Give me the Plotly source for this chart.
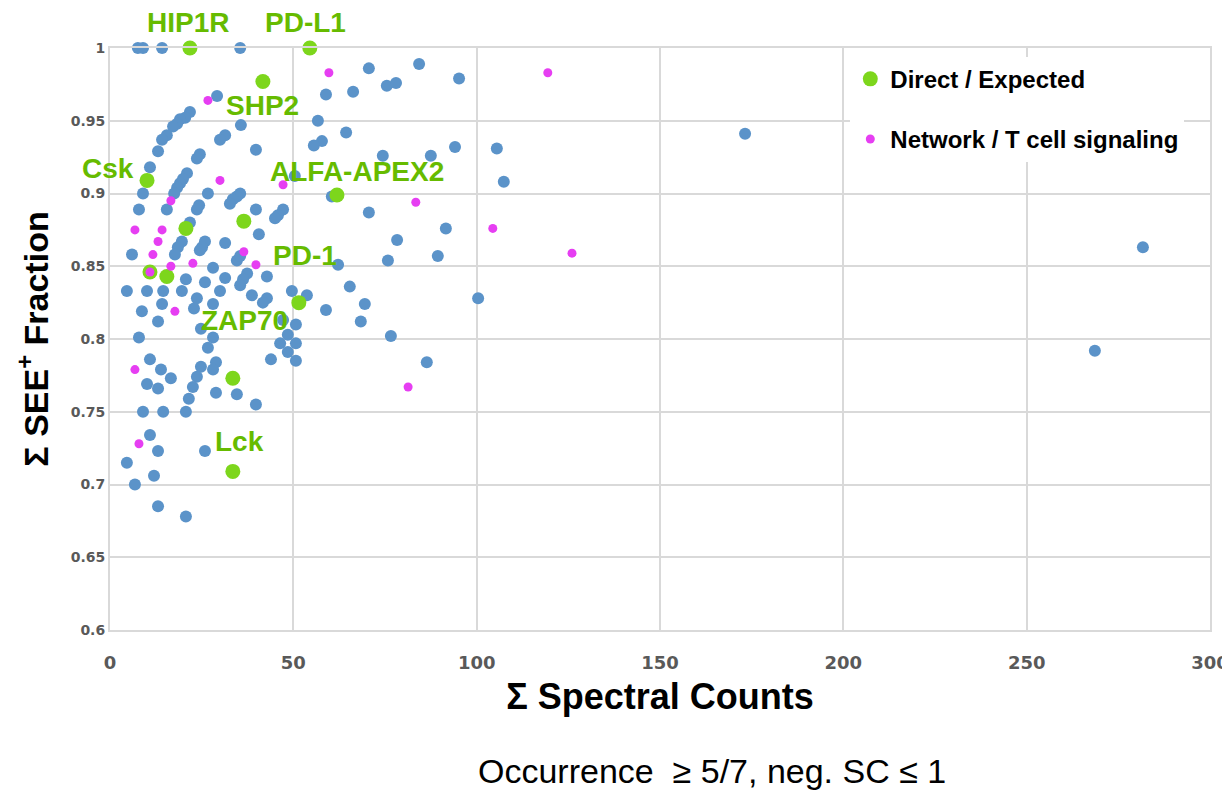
import plotly.graph_objects as go

# ---------------- data ----------------
blue_x = [7.6, 9.0, 14.2, 35.5, 29.2, 21.8, 20.5, 19.1, 18.3, 17.2, 15.5, 14.2, 13.1, 10.9, 9.0, 7.9, 6.0,
          35.7, 31.4, 30.0, 24.5, 23.7, 21.0, 19.9, 19.1, 18.3, 17.5, 15.5, 21.8, 26.7, 24.3, 23.7, 25.9, 25.1,
          24.5, 31.4, 19.6, 18.5, 17.7, 28.1, 20.7, 25.9, 31.4, 4.6, 10.1, 14.5, 19.6, 23.7, 30.0, 14.2, 8.7,
          22.9, 28.1, 13.1, 24.8, 7.9, 28.1, 26.7, 10.9, 13.9, 16.6, 10.1, 13.1, 24.8, 28.9, 28.1, 23.7, 22.6,
          21.5, 28.9, 34.6, 39.8, 9.0, 14.5, 20.7, 10.9, 13.1, 25.9, 4.6, 12.0, 6.8, 13.1, 20.7,
          35.5, 34.6, 33.5, 32.7, 39.8, 47.2, 45.8, 45.0, 40.6, 34.6, 35.5, 42.8, 37.4, 36.3, 35.5, 38.7, 42.8,
          41.7, 49.6, 53.7, 58.9, 65.4, 47.2, 50.7, 48.5, 46.4, 50.7, 48.5, 50.7, 43.9, 62.2, 39.8, 50.4,
          58.9, 66.3, 56.7, 64.4, 57.8, 55.6, 60.5, 70.6, 84.3, 75.5, 78.0, 95.2, 74.4, 87.5, 94.1, 105.5,
          107.4, 70.6, 91.6, 78.3, 75.8, 89.4, 69.5, 68.4, 100.4, 76.6, 86.4,
          173.2, 281.7, 268.6]
blue_y = [1.000, 1.000, 1.000, 1.000, 0.967, 0.956, 0.952, 0.951, 0.948, 0.946, 0.940, 0.937, 0.929, 0.918,
          0.900, 0.889, 0.858,
          0.947, 0.940, 0.937, 0.927, 0.924, 0.914, 0.910, 0.907, 0.904, 0.900, 0.889, 0.880, 0.900, 0.892,
          0.889, 0.867, 0.863, 0.861, 0.866, 0.867, 0.863, 0.858, 0.849, 0.841, 0.839, 0.842, 0.833, 0.833,
          0.833, 0.833, 0.828, 0.833, 0.824, 0.819, 0.821, 0.824, 0.812, 0.807, 0.801, 0.801, 0.794, 0.786,
          0.779, 0.773, 0.769, 0.766, 0.781, 0.784, 0.779, 0.774, 0.767, 0.759, 0.763, 0.762, 0.755, 0.750,
          0.750, 0.750, 0.734, 0.723, 0.723, 0.715, 0.706, 0.700, 0.685, 0.678,
          0.900, 0.898, 0.896, 0.893, 0.889, 0.889, 0.885, 0.883, 0.872, 0.854, 0.857, 0.843, 0.845, 0.841,
          0.837, 0.830, 0.828, 0.825, 0.833, 0.830, 0.820, 0.836, 0.813, 0.810, 0.803, 0.797, 0.797, 0.791,
          0.785, 0.786, 0.851, 0.930, 0.912,
          0.968, 0.970, 0.950, 0.942, 0.936, 0.933, 0.898, 0.986, 0.989, 0.974, 0.976, 0.979, 0.926, 0.926,
          0.932, 0.931, 0.908, 0.887, 0.876, 0.868, 0.854, 0.857, 0.824, 0.812, 0.828, 0.802, 0.784,
          0.941, 0.863, 0.792]

pink_x = [26.7, 59.7, 119.4, 30.0, 47.2, 16.6, 6.8, 14.2, 13.1, 11.7, 36.5, 39.8, 22.6, 16.6, 10.9, 17.7,
          6.8, 7.9, 83.4, 104.4, 126.0, 81.3]
pink_y = [0.964, 0.983, 0.983, 0.909, 0.906, 0.895, 0.875, 0.875, 0.867, 0.858, 0.860, 0.851, 0.852, 0.850,
          0.846, 0.819, 0.779, 0.728, 0.894, 0.876, 0.859, 0.767]

green_x = [21.8, 54.5, 41.7, 10.1, 61.9, 36.5, 20.7, 10.9, 15.5, 51.5, 33.5, 33.5]
green_y = [1.000, 1.000, 0.977, 0.909, 0.899, 0.881, 0.876, 0.846, 0.843, 0.825, 0.773, 0.709]
green_labels = ["HIP1R", "PD-L1", "SHP2", "Csk", "ALFA-APEX2", "", "", "", "", "PD-1", "ZAP70", "Lck"]

x_ticks = [0, 50, 100, 150, 200, 250, 300]
y_ticks = [0.6, 0.65, 0.7, 0.75, 0.8, 0.85, 0.9, 0.95, 1]

# label offsets in pixels (dx, dy) relative to each green point
label_offsets = {"HIP1R": (-2, 26), "PD-L1": (-4, 26), "SHP2": (0, -24), "Csk": (-39, 12),
                 "ALFA-APEX2": (20, 23), "PD-1": (6, 47), "ZAP70": (12, 58), "Lck": (7, 30)}

BLUE = "#5b93c9"
GREEN = "#7dd61c"
GREEN_TXT = "#66bb00"
PINK = "#e63ef2"
GRID = "#d9d9d9"
FONT = "Liberation Sans, Arial, sans-serif"

fig = go.Figure()
fig.add_trace(go.Scatter(x=blue_x, y=blue_y, mode="markers", showlegend=False,
                         marker=dict(color=BLUE, size=12), cliponaxis=False, hoverinfo="x+y"))
fig.add_trace(go.Scatter(x=green_x, y=green_y, mode="markers", name="Direct / Expected",
                         legendgroup="g1",
                         marker=dict(color=GREEN, size=15), cliponaxis=False))
fig.add_trace(go.Scatter(x=pink_x, y=pink_y, mode="markers", name="Network / T cell signaling",
                         legendgroup="g2",
                         marker=dict(color=PINK, size=9), cliponaxis=False))

for gx, gy, lab in zip(green_x, green_y, green_labels):
    if not lab:
        continue
    dx, dy = label_offsets[lab]
    fig.add_annotation(x=gx, y=gy, text=lab, showarrow=False, xshift=dx, yshift=dy,
                       font=dict(family=FONT, size=28, color=GREEN_TXT, weight="bold"))

fig.add_annotation(xref="paper", yref="paper", x=0.547, y=-0.243, text="Occurrence  ≥ 5/7, neg. SC ≤ 1",
                   showarrow=False, xanchor="center", yanchor="middle",
                   font=dict(family=FONT, size=34, color="#000000"))

fig.update_layout(
    width=1222, height=785, autosize=False,
    margin=dict(l=102, r=20, t=40, b=163, autoexpand=False),
    plot_bgcolor="white", paper_bgcolor="white",
    font=dict(family=FONT),
    legend=dict(x=0.673, y=0.985, xanchor="left", yanchor="top", bgcolor="white",
                font=dict(family=FONT, size=24, color="#000000", weight="bold"),
                itemwidth=30, tracegroupgap=26, itemsizing="trace"),
    xaxis=dict(range=[0, 300], tickvals=x_ticks, showgrid=True, gridcolor=GRID, gridwidth=2,
               zeroline=False, showline=True, linecolor=GRID, linewidth=2, mirror=True,
               ticks="", ticklabelstandoff=15, automargin=False,
               tickfont=dict(family="DejaVu Sans", size=18, color="#595959", weight="bold"),
               title=dict(text="Σ Spectral Counts", standoff=12,
                          font=dict(family=FONT, size=36, color="#000000", weight="bold"))),
    yaxis=dict(range=[0.6, 1.0], tickvals=y_ticks, showgrid=True, gridcolor=GRID, gridwidth=2,
               zeroline=False, showline=True, linecolor=GRID, linewidth=2, mirror=True,
               ticks="", ticklabelstandoff=0, automargin=False,
               tickfont=dict(family="DejaVu Sans", size=14, color="#595959", weight="bold"),
               title=dict(text="Σ SEE<sup>+</sup> Fraction", standoff=12,
                          font=dict(family=FONT, size=34, color="#000000", weight="bold"))),
)

fig.write_html("out.html")
